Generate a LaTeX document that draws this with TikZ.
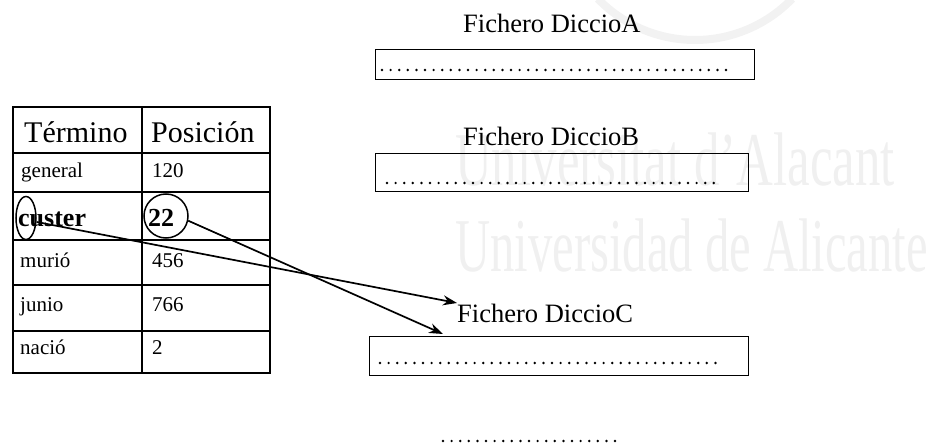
\documentclass[tikz,border=0pt]{standalone}
\usepackage{fontspec}
\setmainfont{Liberation Serif}
\usepackage{graphicx}
\usetikzlibrary{arrows.meta,shapes.geometric}

\begin{document}
\begin{tikzpicture}[x=1pt,y=-1pt,
  cell/.style={anchor=base west, inner sep=0pt},
  head/.style={cell, font=\fontsize{30}{36}\selectfont},
  body/.style={cell, font=\fontsize{21}{25}\selectfont},
  keyrow/.style={cell, font=\fontsize{26}{30}\selectfont\bfseries},
  flabel/.style={anchor=base west, inner sep=0pt, font=\fontsize{26.5}{31}\selectfont},
  filebox/.style={draw, line width=1.3pt, anchor=north west, inner sep=0pt},
  dotrow/.style={line width=2.7pt, line cap=round, dash pattern=on 0pt off 8.6pt},
  ringmark/.style={draw, line width=1.5pt, inner sep=0pt},
  ptr/.style={line width=1.7pt, -{Stealth[length=14pt,width=10pt]}},
  wmark/.style={anchor=base west, inner sep=0pt, text=black!6,
                font=\fontsize{76}{80}\selectfont}
]
\useasboundingbox (0,0) rectangle (932,446);

% faint background emblem and lettering
\draw[black!5, line width=8pt] (695,-95) ++(44:135) arc[start angle=44, end angle=136, radius=135];
\node[wmark] (wm1) at (455,186) {\scalebox{0.67}[1]{Universitat d'Alacant}};
\node[wmark] (wm2) at (455,272) {\scalebox{0.64}[1]{Universidad de Alicante}};

% term table
\draw[line width=2.2pt] (13,107) rectangle (270,373);
\draw[line width=1.4pt] (142,107) -- (142,373);
\foreach \yy in {153,192,240,285,331}
  \draw[line width=1.4pt] (13,\yy) -- (270,\yy);

\node[head] (hT) at (24,143) {Término};
\node[head] (hP) at (151,143) {Posición};
\node[body] (t1) at (21,178) {general};
\node[body] (p1) at (152,178) {120};
\node[keyrow] (t2) at (18,227) {custer};
\node[keyrow] (p2) at (148,227) {22};
\node[body] (t3) at (20,268) {murió};
\node[body] (p3) at (152,268) {456};
\node[body] (t4) at (20,312) {junio};
\node[body] (p4) at (152,312) {766};
\node[body] (t5) at (20,355) {nació};
\node[body] (p5) at (152,355) {2};

% highlighted entries
\node[ringmark, ellipse, minimum width=20pt, minimum height=43pt] (cel) at (26,218) {};
\node[ringmark, circle, minimum size=44pt] (pcir) at (166,216) {};

% dictionary files
\node[flabel] (labA) at (463,33) {Fichero DiccioA};
\node[filebox, minimum width=379pt, minimum height=30pt] (boxA) at (375,49) {};
\draw[dotrow] (382,70) -- (727,70);

\node[flabel] (labB) at (463,146) {Fichero DiccioB};
\node[filebox, minimum width=373pt, minimum height=38pt] (boxB) at (375,153) {};
\draw[dotrow] (387,183) -- (720,183);

\node[flabel] (labC) at (457,323) {Fichero DiccioC};
\node[filebox, minimum width=379pt, minimum height=39pt] (boxC) at (369,336) {};
\draw[dotrow] (380,363) -- (720,363);

\draw[dotrow] (443,441) -- (622,441);

% pointers into DiccioC
\coordinate (tipA) at (457,303);
\coordinate (tipB) at (443,334);
\draw[ptr] ([yshift=-4pt]cel.east) -- (tipA);
\draw[ptr] (pcir.-12) -- (tipB);
\end{tikzpicture}
\end{document}
